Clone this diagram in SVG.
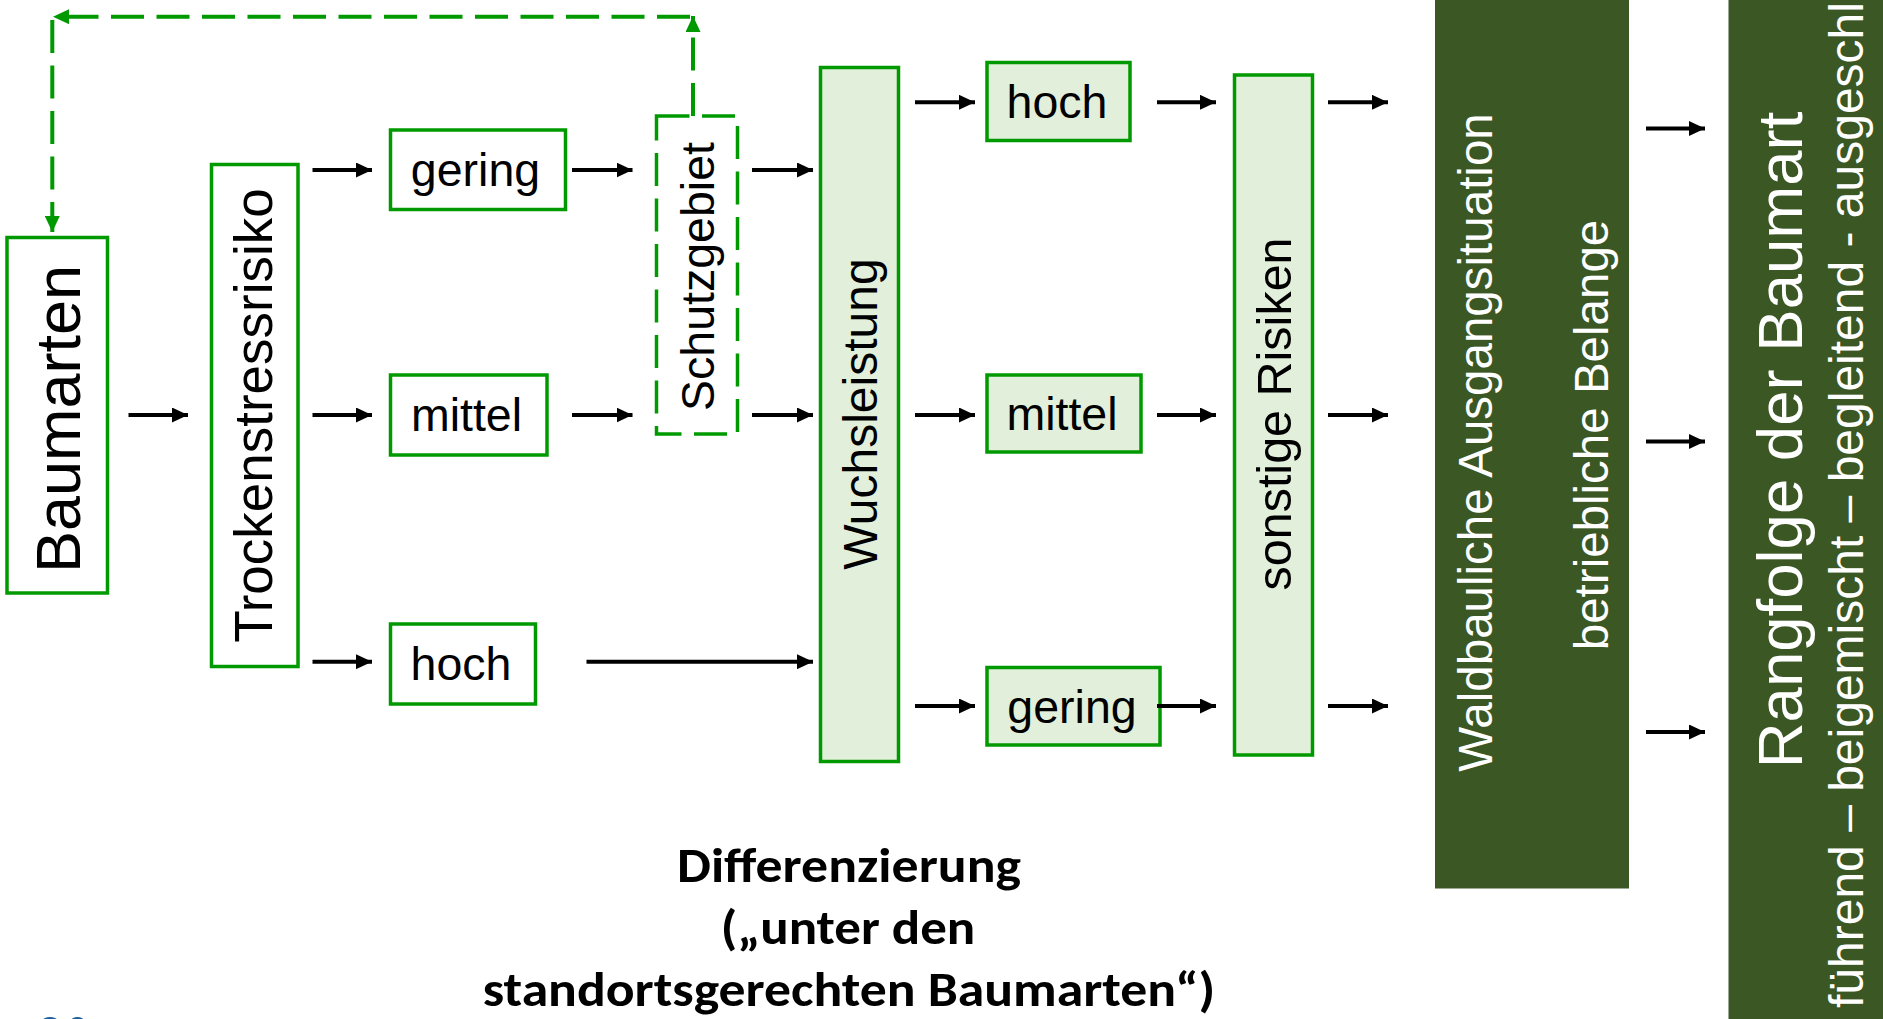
<svg xmlns="http://www.w3.org/2000/svg" width="1883" height="1019" viewBox="0 0 1883 1019">
  <style>
    .box { fill: #ffffff; stroke: #009a00; stroke-width: 3.5; }
    .boxf { fill: #e2efda; stroke: #009a00; stroke-width: 3.5; }
    .dash { fill: #ffffff; stroke: #009a00; stroke-width: 3.5; stroke-dasharray: 33 12.5; }
    .dark { fill: #3b5724; stroke: none; }
    .lbl { font-family: "Liberation Sans", Arial, sans-serif; fill: #000000; }
    .wlbl { font-family: "Liberation Sans", Arial, sans-serif; fill: #ffffff; }
    .arr { stroke: #000000; stroke-width: 4; fill: none; marker-end: url(#ah); }
    .fb { stroke: #009a00; stroke-width: 4; fill: none; stroke-dasharray: 33 12.5; marker-end: url(#gh); }
    .cap { font-family: "Carlito", "Lato", sans-serif; font-weight: bold; font-size: 48px; fill: #000000; }
  </style>
  <defs>
    <marker id="ah" markerUnits="userSpaceOnUse" markerWidth="16" markerHeight="15" refX="16" refY="7.5" orient="auto">
      <path d="M0,0 L16,7.5 L0,15 Z" fill="#000000"/>
    </marker>
    <marker id="gh" markerUnits="userSpaceOnUse" markerWidth="16" markerHeight="15" refX="16" refY="7.5" orient="auto">
      <path d="M0,0 L16,7.5 L0,15 Z" fill="#009a00"/>
    </marker>
  </defs>

  <rect width="1883" height="1019" fill="#ffffff"/>

  <!-- nodes -->
  <g id="baumarten">
    <rect class="box" x="7" y="237.5" width="100.5" height="355.5"/>
    <text class="lbl" font-size="63" text-anchor="middle" transform="translate(80,419) rotate(-90)">Baumarten</text>
  </g>
  <g id="trockenstressrisiko">
    <rect class="box" x="211.5" y="164.5" width="86.5" height="502"/>
    <text class="lbl" font-size="53" text-anchor="middle" transform="translate(272,415.5) rotate(-90)">Trockenstressrisiko</text>
  </g>
  <g id="ts-gering">
    <rect class="box" x="390.5" y="130" width="175" height="79.5"/>
    <text class="lbl" font-size="46.5" text-anchor="middle" x="475.5" y="186">gering</text>
  </g>
  <g id="ts-mittel">
    <rect class="box" x="390.5" y="375" width="156.5" height="80"/>
    <text class="lbl" font-size="46.5" text-anchor="middle" x="466.5" y="430.5">mittel</text>
  </g>
  <g id="ts-hoch">
    <rect class="box" x="390.5" y="624" width="145" height="80"/>
    <text class="lbl" font-size="46.5" text-anchor="middle" x="461" y="680">hoch</text>
  </g>
  <g id="schutzgebiet">
    <rect class="dash" x="656.5" y="116" width="81" height="318"/>
    <text class="lbl" font-size="46.5" text-anchor="middle" transform="translate(714,276.5) rotate(-90)">Schutzgebiet</text>
  </g>
  <g id="wuchsleistung">
    <rect class="boxf" x="820.5" y="67.5" width="78" height="694"/>
    <text class="lbl" font-size="48" text-anchor="middle" transform="translate(877,414) rotate(-90)">Wuchsleistung</text>
  </g>
  <g id="wl-hoch">
    <rect class="boxf" x="987" y="62.5" width="143" height="78"/>
    <text class="lbl" font-size="46.5" text-anchor="middle" x="1057" y="118.3">hoch</text>
  </g>
  <g id="wl-mittel">
    <rect class="boxf" x="987" y="375" width="154" height="77"/>
    <text class="lbl" font-size="46.5" text-anchor="middle" x="1062" y="430">mittel</text>
  </g>
  <g id="wl-gering">
    <rect class="boxf" x="987" y="667.5" width="173" height="77.5"/>
    <text class="lbl" font-size="46.5" text-anchor="middle" x="1072" y="723.3">gering</text>
  </g>
  <g id="sonstige-risiken">
    <rect class="boxf" x="1234.5" y="75" width="78" height="680"/>
    <text class="lbl" font-size="48.5" text-anchor="middle" transform="translate(1291,414) rotate(-90)">sonstige Risiken</text>
  </g>
  <g id="waldbau">
    <rect class="dark" x="1435" y="0" width="194" height="888.5"/>
    <text class="wlbl" font-size="47.5" text-anchor="middle" transform="translate(1492,442.5) rotate(-90)">Waldbauliche Ausgangsituation</text>
    <text class="wlbl" font-size="47.5" text-anchor="middle" transform="translate(1608,435) rotate(-90)">betriebliche Belange</text>
  </g>
  <g id="rangfolge">
    <rect class="dark" x="1728.5" y="0" width="160" height="1019"/>
    <text class="wlbl" font-size="63.5" text-anchor="middle" transform="translate(1802,440) rotate(-90)">Rangfolge der Baumart</text>
    <text class="wlbl" font-size="48" text-anchor="start" transform="translate(1863,1008) rotate(-90)">führend – beigemischt – begleitend - ausgeschlossen</text>
  </g>

  <!-- connectors -->
  <g id="connectors">
    <path class="arr" d="M128.5,415 H188"/>
    <path class="arr" d="M312.5,170 H372"/>
    <path class="arr" d="M312.5,415 H372"/>
    <path class="arr" d="M312.5,661.7 H372"/>
    <path class="arr" d="M572,170 H632.5"/>
    <path class="arr" d="M572,415 H632.5"/>
    <path class="arr" d="M586.5,661.7 H813"/>
    <path class="arr" d="M752,170 H813"/>
    <path class="arr" d="M752,415 H813"/>
    <path class="arr" d="M915,102.3 H975"/>
    <path class="arr" d="M915,415 H975"/>
    <path class="arr" d="M915,706 H975"/>
    <path class="arr" d="M1157,102.3 H1216"/>
    <path class="arr" d="M1157,415 H1216"/>
    <path class="arr" d="M1157,706 H1216"/>
    <path class="arr" d="M1328,102.3 H1388"/>
    <path class="arr" d="M1328,415 H1388"/>
    <path class="arr" d="M1328,706 H1388"/>
    <path class="arr" d="M1646,128.5 H1705"/>
    <path class="arr" d="M1646,441.5 H1705"/>
    <path class="arr" d="M1646,732 H1705"/>
    <!-- dashed feedback loop from Schutzgebiet back to Baumarten -->
    <path class="fb" d="M693,116 V16"/>
    <path class="fb" d="M690,16.7 H53"/>
    <path class="fb" d="M52.3,20 V232"/>
  </g>

  <!-- caption -->
  <g id="caption">
    <text class="cap" text-anchor="middle" x="849" y="882" textLength="344" lengthAdjust="spacingAndGlyphs">Differenzierung</text>
    <text class="cap" text-anchor="middle" x="848" y="944" textLength="254.6" lengthAdjust="spacingAndGlyphs">(„unter den</text>
    <text class="cap" text-anchor="middle" x="849" y="1006" textLength="732.5" lengthAdjust="spacingAndGlyphs">standortsgerechten Baumarten“)</text>
  </g>

  <!-- cut-off marks at the lower left edge -->
  <g id="edge-marks" fill="#1a5fa0">
    <ellipse cx="50" cy="1020" rx="7" ry="3"/>
    <ellipse cx="77.5" cy="1020" rx="6" ry="3"/>
  </g>
</svg>
